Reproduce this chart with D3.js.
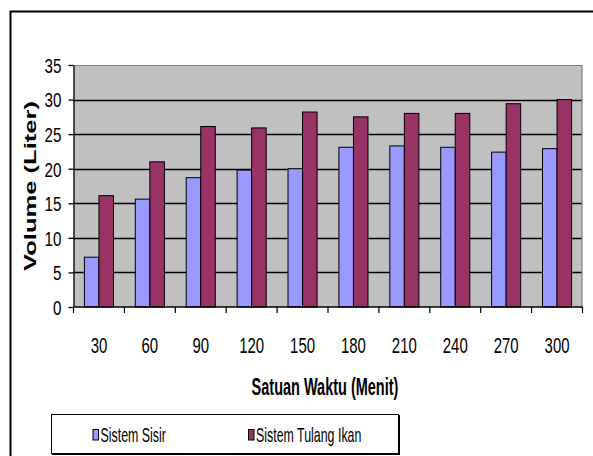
<!DOCTYPE html>
<html>
<head>
<meta charset="utf-8">
<script src="https://cdn.jsdelivr.net/npm/d3@7"></script>
<style>
  html, body { margin: 0; padding: 0; background: #fff; }
  svg { display: block; }
  text { font-family: "Liberation Sans", Arial, sans-serif; fill: #000; }
</style>
</head>
<body>
<svg id="chart" width="593" height="456"></svg>
<script>
// Volume per time unit for two drainage systems
const categories = ["30", "60", "90", "120", "150", "180", "210", "240", "270", "300"];
const sisir = [7.2, 15.6, 18.7, 19.8, 20.0, 23.1, 23.3, 23.1, 22.4, 22.9];
const tulangIkan = [16.1, 21.0, 26.1, 25.9, 28.2, 27.5, 28.0, 28.0, 29.4, 30.0];
const seriesNames = ["Sistem Sisir", "Sistem Tulang Ikan"];
const seriesColors = ["#9999FF", "#993366"];
const yTicks = [0, 5, 10, 15, 20, 25, 30, 35];

const svg = d3.select("#chart");
const W = 593, H = 456;

// condensed lettering: squeeze text horizontally to a share of its natural width
function condense(sel, ratio) {
  sel.each(function () {
    const len = this.getComputedTextLength();
    d3.select(this).attr("textLength", len * ratio).attr("lengthAdjust", "spacingAndGlyphs");
  });
  return sel;
}

svg.append("rect").attr("width", W).attr("height", H).attr("fill", "#fff");

// chart frame
svg.append("rect")
  .attr("x", 10.5).attr("y", 11.5).attr("width", 700).attr("height", 600)
  .attr("fill", "none").attr("stroke", "#000").attr("stroke-width", 2);

const plot = { left: 73.5, right: 582.5, top: 65, bottom: 307 };

const x = d3.scaleBand().domain(categories).range([plot.left, plot.right]).paddingInner(0).paddingOuter(0);
const bw = x.bandwidth();
const groupW = bw * 2 / 3.5;
const x1 = d3.scaleBand().domain([0, 1]).range([bw * 0.75 / 3.5, bw * 0.75 / 3.5 + groupW]).padding(0);
const y = d3.scaleLinear().domain([0, 35]).range([plot.bottom, plot.top]);

// plot area
svg.append("rect")
  .attr("x", plot.left).attr("y", plot.top)
  .attr("width", plot.right - plot.left).attr("height", plot.bottom - plot.top)
  .attr("fill", "#C0C0C0");
svg.append("path")
  .attr("d", `M${plot.left},${plot.top + 0.5}H${plot.right - 0.5}V${plot.bottom}`)
  .attr("fill", "none").attr("stroke", "#808080").attr("stroke-width", 1);

// gridlines
svg.append("g").selectAll("line")
  .data(yTicks.filter(d => d > 0 && d < 35))
  .join("line")
  .attr("x1", plot.left).attr("x2", plot.right - 1)
  .attr("y1", d => Math.round(y(d)) + 0.5).attr("y2", d => Math.round(y(d)) + 0.5)
  .attr("stroke", "#000").attr("stroke-width", 1.3);

// bars
const rows = categories.map((c, i) => ({ c, vals: [sisir[i], tulangIkan[i]] }));
const groups = svg.append("g").selectAll("g")
  .data(rows).join("g")
  .attr("transform", d => `translate(${x(d.c)},0)`);
groups.selectAll("rect")
  .data(d => d.vals.map((v, k) => ({ v, k })))
  .join("rect")
  .attr("x", d => x1(d.k))
  .attr("width", x1.bandwidth())
  .attr("y", d => y(d.v))
  .attr("height", d => y(0) - y(d.v))
  .attr("fill", d => seriesColors[d.k])
  .attr("stroke", "#000").attr("stroke-width", 1);

// y axis
const yAxis = d3.axisLeft(y).tickValues(yTicks).tickSize(5).tickSizeOuter(0).tickPadding(7);
const gy = svg.append("g").attr("transform", `translate(${plot.left},0)`).call(yAxis);
gy.select(".domain").attr("stroke", "#000").attr("stroke-width", 1.3);
gy.selectAll(".tick line").attr("stroke", "#000").attr("stroke-width", 1.3);
gy.selectAll(".tick text")
  .attr("font-size", 20.5).attr("font-family", "Liberation Sans, Arial, sans-serif")
  .attr("fill", "#000").attr("dy", "0.36em");
condense(gy.selectAll(".tick text"), 0.74);

// x axis: ticks on category boundaries
const gx = svg.append("g").attr("transform", `translate(0,${plot.bottom})`);
gx.append("line").attr("x1", plot.left).attr("x2", plot.right)
  .attr("y1", 0).attr("y2", 0).attr("stroke", "#000").attr("stroke-width", 1.3);
const bounds = categories.map(c => x(c)).concat([x(categories[categories.length - 1]) + bw]);
gx.selectAll("line.b").data(bounds).join("line").attr("class", "b")
  .attr("x1", d => d).attr("x2", d => d).attr("y1", 0).attr("y2", 6)
  .attr("stroke", "#000").attr("stroke-width", 1.2);
const xl = gx.selectAll("text").data(categories).join("text")
  .attr("x", d => x(d) + bw / 2).attr("y", 46)
  .attr("text-anchor", "middle").attr("font-size", 22)
  .text(d => d);
condense(xl, 0.68);

// axis titles
const xt = svg.append("text")
  .attr("x", (plot.left + plot.right) / 2 - 3).attr("y", 395)
  .attr("text-anchor", "middle").attr("font-size", 23).attr("font-weight", "bold")
  .text("Satuan Waktu (Menit)");
condense(xt, 0.63);

const yt = svg.append("text")
  .attr("transform", `translate(36,${(plot.top + plot.bottom) / 2}) rotate(-90)`)
  .attr("text-anchor", "middle").attr("font-size", 17).attr("font-weight", "bold")
  .text("Volume (Liter)");
yt.attr("textLength", 170).attr("lengthAdjust", "spacingAndGlyphs");

// legend
const lg = svg.append("g");
lg.append("rect").attr("x", 52).attr("y", 415).attr("width", 348).attr("height", 40).attr("fill", "#000");
lg.append("rect").attr("x", 51.5).attr("y", 414.5).attr("width", 347).attr("height", 39)
  .attr("fill", "#fff").attr("stroke", "#000").attr("stroke-width", 1);
const legendX = [93, 248.5];
seriesNames.forEach((name, k) => {
  lg.append("rect").attr("x", legendX[k]).attr("y", 429.5).attr("width", 5.5).attr("height", 10.5)
    .attr("fill", seriesColors[k]).attr("stroke", "#000").attr("stroke-width", 1);
  const t = lg.append("text").attr("x", legendX[k] + 7.5).attr("y", 441.5)
    .attr("font-size", 21).text(name);
  condense(t, 0.59);
});
</script>
</body>
</html>
